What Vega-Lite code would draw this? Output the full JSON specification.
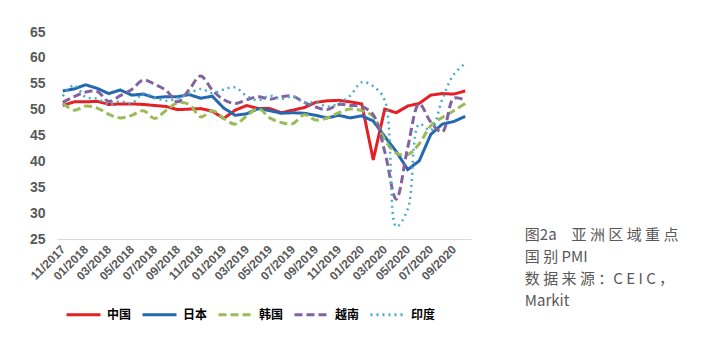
{
  "$schema": "https://vega.github.io/schema/vega-lite/v6.json",
  "width": 414,
  "height": 207,
  "autosize": {"type": "none"},
  "padding": {"left": 57, "top": 32, "right": 247, "bottom": 112},
  "background": "white",
  "config": {"view": {"stroke": null}, "font": "Liberation Sans"},
  "title": {
    "text": ["图2a　亚 洲 区 域 重 点", "国 别 PMI", "数 据 来 源 ：C E I C ，", "Markit"],
    "orient": "right",
    "anchor": "end",
    "frame": "group",
    "angle": 0,
    "align": "left",
    "baseline": "top",
    "offset": 54,
    "dx": -154,
    "dy": -11,
    "font": "Noto Sans CJK SC",
    "fontSize": 15,
    "fontWeight": "normal",
    "color": "#595959",
    "lineHeight": 22
  },
  "datasets": {
    "pmi": [
      {"m": "11/2017", "c": "中国", "v": 50.8}, {"m": "12/2017", "c": "中国", "v": 51.5}, {"m": "01/2018", "c": "中国", "v": 51.5}, {"m": "02/2018", "c": "中国", "v": 51.6}, {"m": "03/2018", "c": "中国", "v": 51.0}, {"m": "04/2018", "c": "中国", "v": 51.1}, {"m": "05/2018", "c": "中国", "v": 51.1}, {"m": "06/2018", "c": "中国", "v": 51.0}, {"m": "07/2018", "c": "中国", "v": 50.8}, {"m": "08/2018", "c": "中国", "v": 50.6}, {"m": "09/2018", "c": "中国", "v": 50.0}, {"m": "10/2018", "c": "中国", "v": 50.1}, {"m": "11/2018", "c": "中国", "v": 50.2}, {"m": "12/2018", "c": "中国", "v": 49.7}, {"m": "01/2019", "c": "中国", "v": 48.3}, {"m": "02/2019", "c": "中国", "v": 49.9}, {"m": "03/2019", "c": "中国", "v": 50.8}, {"m": "04/2019", "c": "中国", "v": 50.2}, {"m": "05/2019", "c": "中国", "v": 50.2}, {"m": "06/2019", "c": "中国", "v": 49.4}, {"m": "07/2019", "c": "中国", "v": 49.9}, {"m": "08/2019", "c": "中国", "v": 50.4}, {"m": "09/2019", "c": "中国", "v": 51.4}, {"m": "10/2019", "c": "中国", "v": 51.7}, {"m": "11/2019", "c": "中国", "v": 51.8}, {"m": "12/2019", "c": "中国", "v": 51.5}, {"m": "01/2020", "c": "中国", "v": 51.1}, {"m": "02/2020", "c": "中国", "v": 40.3}, {"m": "03/2020", "c": "中国", "v": 50.1}, {"m": "04/2020", "c": "中国", "v": 49.4}, {"m": "05/2020", "c": "中国", "v": 50.7}, {"m": "06/2020", "c": "中国", "v": 51.2}, {"m": "07/2020", "c": "中国", "v": 52.8}, {"m": "08/2020", "c": "中国", "v": 53.1}, {"m": "09/2020", "c": "中国", "v": 53.0}, {"m": "10/2020", "c": "中国", "v": 53.6},
      {"m": "11/2017", "c": "日本", "v": 53.6}, {"m": "12/2017", "c": "日本", "v": 54.0}, {"m": "01/2018", "c": "日本", "v": 54.8}, {"m": "02/2018", "c": "日本", "v": 54.1}, {"m": "03/2018", "c": "日本", "v": 53.1}, {"m": "04/2018", "c": "日本", "v": 53.8}, {"m": "05/2018", "c": "日本", "v": 52.8}, {"m": "06/2018", "c": "日本", "v": 53.0}, {"m": "07/2018", "c": "日本", "v": 52.3}, {"m": "08/2018", "c": "日本", "v": 52.5}, {"m": "09/2018", "c": "日本", "v": 52.5}, {"m": "10/2018", "c": "日本", "v": 52.9}, {"m": "11/2018", "c": "日本", "v": 52.2}, {"m": "12/2018", "c": "日本", "v": 52.6}, {"m": "01/2019", "c": "日本", "v": 50.3}, {"m": "02/2019", "c": "日本", "v": 48.9}, {"m": "03/2019", "c": "日本", "v": 49.2}, {"m": "04/2019", "c": "日本", "v": 50.2}, {"m": "05/2019", "c": "日本", "v": 49.8}, {"m": "06/2019", "c": "日本", "v": 49.3}, {"m": "07/2019", "c": "日本", "v": 49.4}, {"m": "08/2019", "c": "日本", "v": 49.3}, {"m": "09/2019", "c": "日本", "v": 48.9}, {"m": "10/2019", "c": "日本", "v": 48.4}, {"m": "11/2019", "c": "日本", "v": 48.9}, {"m": "12/2019", "c": "日本", "v": 48.4}, {"m": "01/2020", "c": "日本", "v": 48.8}, {"m": "02/2020", "c": "日本", "v": 47.8}, {"m": "03/2020", "c": "日本", "v": 44.8}, {"m": "04/2020", "c": "日本", "v": 41.9}, {"m": "05/2020", "c": "日本", "v": 38.4}, {"m": "06/2020", "c": "日本", "v": 40.1}, {"m": "07/2020", "c": "日本", "v": 45.2}, {"m": "08/2020", "c": "日本", "v": 47.2}, {"m": "09/2020", "c": "日本", "v": 47.7}, {"m": "10/2020", "c": "日本", "v": 48.7},
      {"m": "11/2017", "c": "韩国", "v": 51.2}, {"m": "12/2017", "c": "韩国", "v": 49.9}, {"m": "01/2018", "c": "韩国", "v": 50.7}, {"m": "02/2018", "c": "韩国", "v": 50.3}, {"m": "03/2018", "c": "韩国", "v": 49.1}, {"m": "04/2018", "c": "韩国", "v": 48.4}, {"m": "05/2018", "c": "韩国", "v": 48.9}, {"m": "06/2018", "c": "韩国", "v": 49.8}, {"m": "07/2018", "c": "韩国", "v": 48.3}, {"m": "08/2018", "c": "韩国", "v": 49.9}, {"m": "09/2018", "c": "韩国", "v": 51.3}, {"m": "10/2018", "c": "韩国", "v": 51.0}, {"m": "11/2018", "c": "韩国", "v": 48.6}, {"m": "12/2018", "c": "韩国", "v": 49.8}, {"m": "01/2019", "c": "韩国", "v": 48.3}, {"m": "02/2019", "c": "韩国", "v": 47.2}, {"m": "03/2019", "c": "韩国", "v": 48.8}, {"m": "04/2019", "c": "韩国", "v": 50.2}, {"m": "05/2019", "c": "韩国", "v": 48.4}, {"m": "06/2019", "c": "韩国", "v": 47.5}, {"m": "07/2019", "c": "韩国", "v": 47.3}, {"m": "08/2019", "c": "韩国", "v": 49.0}, {"m": "09/2019", "c": "韩国", "v": 48.0}, {"m": "10/2019", "c": "韩国", "v": 48.4}, {"m": "11/2019", "c": "韩国", "v": 49.4}, {"m": "12/2019", "c": "韩国", "v": 50.1}, {"m": "01/2020", "c": "韩国", "v": 49.8}, {"m": "02/2020", "c": "韩国", "v": 48.7}, {"m": "03/2020", "c": "韩国", "v": 44.2}, {"m": "04/2020", "c": "韩国", "v": 41.6}, {"m": "05/2020", "c": "韩国", "v": 41.3}, {"m": "06/2020", "c": "韩国", "v": 43.4}, {"m": "07/2020", "c": "韩国", "v": 46.9}, {"m": "08/2020", "c": "韩国", "v": 48.5}, {"m": "09/2020", "c": "韩国", "v": 49.8}, {"m": "10/2020", "c": "韩国", "v": 51.2},
      {"m": "11/2017", "c": "越南", "v": 51.4}, {"m": "12/2017", "c": "越南", "v": 52.5}, {"m": "01/2018", "c": "越南", "v": 53.4}, {"m": "02/2018", "c": "越南", "v": 53.5}, {"m": "03/2018", "c": "越南", "v": 51.6}, {"m": "04/2018", "c": "越南", "v": 52.7}, {"m": "05/2018", "c": "越南", "v": 53.9}, {"m": "06/2018", "c": "越南", "v": 55.7}, {"m": "07/2018", "c": "越南", "v": 54.9}, {"m": "08/2018", "c": "越南", "v": 53.7}, {"m": "09/2018", "c": "越南", "v": 51.5}, {"m": "10/2018", "c": "越南", "v": 53.9}, {"m": "11/2018", "c": "越南", "v": 56.5}, {"m": "12/2018", "c": "越南", "v": 53.8}, {"m": "01/2019", "c": "越南", "v": 51.9}, {"m": "02/2019", "c": "越南", "v": 51.2}, {"m": "03/2019", "c": "越南", "v": 51.9}, {"m": "04/2019", "c": "越南", "v": 52.5}, {"m": "05/2019", "c": "越南", "v": 52.0}, {"m": "06/2019", "c": "越南", "v": 52.5}, {"m": "07/2019", "c": "越南", "v": 52.6}, {"m": "08/2019", "c": "越南", "v": 51.4}, {"m": "09/2019", "c": "越南", "v": 50.5}, {"m": "10/2019", "c": "越南", "v": 50.0}, {"m": "11/2019", "c": "越南", "v": 51.0}, {"m": "12/2019", "c": "越南", "v": 50.8}, {"m": "01/2020", "c": "越南", "v": 50.6}, {"m": "02/2020", "c": "越南", "v": 49.0}, {"m": "03/2020", "c": "越南", "v": 41.9}, {"m": "04/2020", "c": "越南", "v": 32.7}, {"m": "05/2020", "c": "越南", "v": 42.7}, {"m": "06/2020", "c": "越南", "v": 51.1}, {"m": "07/2020", "c": "越南", "v": 47.6}, {"m": "08/2020", "c": "越南", "v": 45.7}, {"m": "09/2020", "c": "越南", "v": 52.2}, {"m": "10/2020", "c": "越南", "v": 51.8},
      {"m": "11/2017", "c": "印度", "v": 52.6}, {"m": "12/2017", "c": "印度", "v": 54.7}, {"m": "01/2018", "c": "印度", "v": 52.4}, {"m": "02/2018", "c": "印度", "v": 52.1}, {"m": "03/2018", "c": "印度", "v": 51.0}, {"m": "04/2018", "c": "印度", "v": 51.6}, {"m": "05/2018", "c": "印度", "v": 51.2}, {"m": "06/2018", "c": "印度", "v": 53.1}, {"m": "07/2018", "c": "印度", "v": 52.3}, {"m": "08/2018", "c": "印度", "v": 51.7}, {"m": "09/2018", "c": "印度", "v": 52.2}, {"m": "10/2018", "c": "印度", "v": 53.1}, {"m": "11/2018", "c": "印度", "v": 54.0}, {"m": "12/2018", "c": "印度", "v": 53.2}, {"m": "01/2019", "c": "印度", "v": 53.9}, {"m": "02/2019", "c": "印度", "v": 54.3}, {"m": "03/2019", "c": "印度", "v": 52.6}, {"m": "04/2019", "c": "印度", "v": 51.8}, {"m": "05/2019", "c": "印度", "v": 52.7}, {"m": "06/2019", "c": "印度", "v": 52.1}, {"m": "07/2019", "c": "印度", "v": 52.5}, {"m": "08/2019", "c": "印度", "v": 51.4}, {"m": "09/2019", "c": "印度", "v": 51.4}, {"m": "10/2019", "c": "印度", "v": 50.6}, {"m": "11/2019", "c": "印度", "v": 51.2}, {"m": "12/2019", "c": "印度", "v": 52.7}, {"m": "01/2020", "c": "印度", "v": 55.3}, {"m": "02/2020", "c": "印度", "v": 54.5}, {"m": "03/2020", "c": "印度", "v": 51.8}, {"m": "04/2020", "c": "印度", "v": 27.4}, {"m": "05/2020", "c": "印度", "v": 30.8}, {"m": "06/2020", "c": "印度", "v": 47.2}, {"m": "07/2020", "c": "印度", "v": 46.0}, {"m": "08/2020", "c": "印度", "v": 52.0}, {"m": "09/2020", "c": "印度", "v": 56.8}, {"m": "10/2020", "c": "印度", "v": 58.9}
    ]
  },
  "data": {"name": "pmi"},
  "encoding": {
    "x": {
      "field": "m",
      "type": "ordinal",
      "scale": {
        "type": "point",
        "padding": 0.5,
        "domain": ["11/2017","12/2017","01/2018","02/2018","03/2018","04/2018","05/2018","06/2018","07/2018","08/2018","09/2018","10/2018","11/2018","12/2018","01/2019","02/2019","03/2019","04/2019","05/2019","06/2019","07/2019","08/2019","09/2019","10/2019","11/2019","12/2019","01/2020","02/2020","03/2020","04/2020","05/2020","06/2020","07/2020","08/2020","09/2020","10/2020"]
      },
      "axis": {
        "values": ["11/2017","01/2018","03/2018","05/2018","07/2018","09/2018","11/2018","01/2019","03/2019","05/2019","07/2019","09/2019","11/2019","01/2020","03/2020","05/2020","07/2020","09/2020"],
        "title": null,
        "labelAngle": -45,
        "labelAlign": "right",
        "labelBaseline": "middle",
        "labelFontSize": 12,
        "labelFontWeight": "bold",
        "labelColor": "#595959",
        "labelPadding": 8,
        "labelOverlap": false,
        "ticks": false,
        "domainColor": "#D9D9D9",
        "domainWidth": 1,
        "grid": false
      }
    },
    "y": {
      "field": "v",
      "type": "quantitative",
      "scale": {"domain": [25, 65], "zero": false, "nice": false},
      "axis": {
        "values": [25, 30, 35, 40, 45, 50, 55, 60, 65],
        "title": null,
        "grid": false,
        "domain": false,
        "ticks": false,
        "labelFontSize": 14,
        "labelFontWeight": "bold",
        "labelColor": "#595959",
        "labelPadding": 12
      }
    },
    "color": {
      "field": "c",
      "type": "nominal",
      "scale": {
        "domain": ["中国", "日本", "韩国", "越南", "印度"],
        "range": ["#E41F26", "#2468B0", "#9BBB59", "#8064A2", "#4BACC6"]
      },
      "legend": {
        "orient": "none",
        "legendX": 8,
        "legendY": 264,
        "direction": "horizontal",
        "title": null,
        "symbolType": "stroke",
        "symbolSize": 1156,
        "symbolStrokeWidth": 3,
        "labelFont": "Noto Sans CJK SC",
        "labelFontWeight": "bold",
        "labelFontSize": 12,
        "labelColor": "#000000",
        "labelOffset": 5,
        "columnPadding": 4
      }
    },
    "strokeDash": {
      "field": "c",
      "type": "nominal",
      "scale": {
        "domain": ["中国", "日本", "韩国", "越南", "印度"],
        "range": [[1, 0], [1, 0], [8, 4], [8, 4], [2, 4]]
      },
      "legend": {
        "orient": "none",
        "legendX": 8,
        "legendY": 264,
        "direction": "horizontal",
        "title": null,
        "symbolType": "stroke",
        "symbolSize": 1156,
        "symbolStrokeWidth": 3,
        "labelFont": "Noto Sans CJK SC",
        "labelFontWeight": "bold",
        "labelFontSize": 12,
        "labelColor": "#000000",
        "labelOffset": 5,
        "columnPadding": 4
      }
    }
  },
  "layer": [
    {
      "transform": [{"filter": {"field": "c", "oneOf": ["中国", "日本"]}}],
      "mark": {"type": "line", "strokeWidth": 3}
    },
    {
      "transform": [{"filter": {"field": "c", "oneOf": ["韩国", "越南"]}}],
      "mark": {"type": "line", "strokeWidth": 3, "interpolate": "catmull-rom"}
    },
    {
      "transform": [{"filter": {"field": "c", "oneOf": ["印度"]}}],
      "mark": {"type": "line", "strokeWidth": 2.5, "interpolate": "catmull-rom"}
    }
  ]
}
